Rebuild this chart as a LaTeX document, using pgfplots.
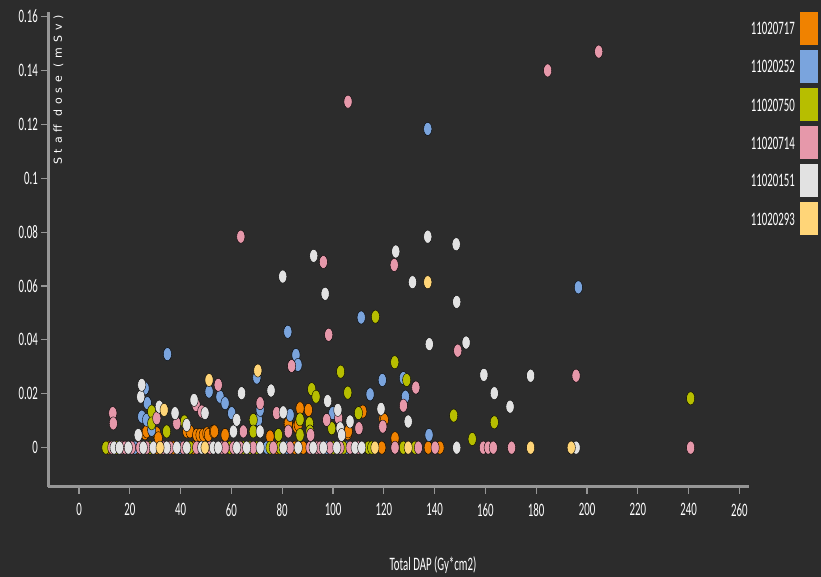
\documentclass[border=0pt]{standalone}
\usepackage{pgfplots}
\pgfplotsset{compat=1.18}
\usepackage{fontspec}
\setmainfont[FakeStretch=0.57]{Carlito}
\newfontfamily\ylabfont[LetterSpace=44]{DejaVu Sans}
\definecolor{bg}{RGB}{44,44,44}
\definecolor{axgray}{RGB}{150,150,150}
\definecolor{cOrange}{RGB}{240,130,0}
\definecolor{cBlue}{RGB}{122,164,221}
\definecolor{cOlive}{RGB}{183,190,0}
\definecolor{cPink}{RGB}{230,152,170}
\definecolor{cWhite}{RGB}{226,226,226}
\definecolor{cYellow}{RGB}{255,213,120}
\pgfplotsset{pt/.style={only marks, mark=*, mark size=4.1pt, mark options={draw=none, fill=#1, yscale=1.6}}}
\begin{document}
\begin{tikzpicture}
\fill[bg] (-48.3pt,-90.3pt) rectangle (772.7pt,486.7pt);
\begin{axis}[
  at={(0pt,0pt)}, anchor=south west,
  scale only axis, width=701pt, height=474.7pt,
  xmin=-12.1, xmax=263.9, ymin=-0.0145, ymax=0.1617,
  axis lines=left,
  axis line style={draw=axgray, line width=2.5pt, -},
  tick style={draw=axgray, line width=1.2pt},
  tick align=outside,
  major tick length=7pt,
  xtick={0,20,40,60,80,100,120,140,160,180,200,220,240,260},
  ytick={0,0.02,0.04,0.06,0.08,0.1,0.12,0.14,0.16},
  scaled y ticks=false,
  yticklabel style={/pgf/number format/fixed, /pgf/number format/precision=2},
  xticklabel style={yshift=-6pt},
  ticklabel style={font=\fontsize{19}{19}\selectfont, text=white},
  /pgf/number format/assume math mode=true,
  xlabel={Total DAP (Gy*cm2)},
  xlabel style={at={(axis description cs:0.5488,0)}, anchor=center, yshift=-78.3pt, font=\fontsize{19}{19}\selectfont, text=white, inner sep=0pt},
  ylabel={Staff dose (mSv)},
  ylabel style={at={(axis description cs:0.0146,0.9937)}, anchor=east, rotate=0, font=\ylabfont\fontsize{11}{11}\selectfont, text=white, inner sep=0pt},
]
\addplot[pt=cOrange] table {
x y
11.5 0
22.7 0
30.6 0
37.1 0
45.0 0
77.8 0
85.0 0
88.3 0
119.2 0
137.5 0
142.1 0
26.0 0.0053
26.6 0.0060
30.6 0.0053
31.2 0.0035
42.4 0.0060
43.7 0.0060
46.3 0.0047
47.6 0.0047
48.9 0.0047
50.3 0.0053
50.9 0.0047
52.9 0.0060
53.3 0.0060
57.5 0.0047
75.2 0.0041
82.2 0.0090
82.4 0.0090
85.7 0.0078
86.3 0.0085
87.0 0.0146
90.3 0.0140
105.8 0.0053
106.0 0.0060
111.7 0.0134
119.7 0.0107
120.2 0.0103
124.4 0.0029
124.4 0.0035
};
\addplot[pt=cBlue] table {
x y
22.0 0
39.8 0
73.9 0
81.8 0
97.5 0
105.4 0
28.6 0.0066
24.7 0.0115
26.0 0.0220
26.6 0.0103
26.9 0.0165
34.8 0.0347
51.2 0.0208
55.5 0.0189
57.5 0.0165
60.1 0.0128
70.0 0.0260
70.6 0.0103
71.3 0.0140
82.2 0.0430
83.1 0.0121
85.4 0.0344
86.2 0.0307
99.9 0.0128
111.1 0.0483
114.6 0.0198
119.4 0.0251
127.7 0.0258
128.5 0.0189
137.3 0.1183
137.8 0.0047
196.6 0.0595
};
\addplot[pt=cOlive] table {
x y
10.6 0
14.8 0
28.0 0
43.7 0
59.4 0
64.7 0
67.3 0
70.0 0
75.2 0
79.1 0
100.1 0
104.1 0
113.9 0
115.2 0
127.7 0
132.3 0
28.6 0.0134
28.6 0.0090
34.5 0.0060
41.5 0.0097
68.6 0.0103
68.6 0.0060
78.5 0.0047
87.0 0.0105
87.0 0.0047
90.7 0.0090
90.9 0.0060
91.6 0.0217
93.3 0.0189
99.5 0.0072
103.0 0.0282
105.8 0.0204
110.0 0.0128
116.7 0.0486
124.3 0.0317
129.0 0.0251
147.5 0.0119
154.8 0.0032
163.5 0.0094
240.8 0.0183
};
\addplot[pt=cPink] table {
x y
12.9 0
16.8 0
18.1 0
20.7 0
24.0 0
26.6 0
33.2 0
35.8 0
41.1 0
46.3 0
51.6 0
56.2 0
57.5 0
60.8 0
63.4 0
68.6 0
76.5 0
83.1 0
90.9 0
93.6 0
94.9 0
98.8 0
102.8 0
106.7 0
110.0 0
124.4 0
133.6 0
140.2 0
159.2 0
161.1 0
163.1 0
170.3 0
240.8 0
13.3 0.0128
13.5 0.0090
30.6 0.0109
38.5 0.0090
46.1 0.0158
48.3 0.0134
54.8 0.0233
64.7 0.0060
71.3 0.0165
77.8 0.0128
82.4 0.0060
83.7 0.0303
91.2 0.0047
96.2 0.0689
97.5 0.0103
98.3 0.0419
102.2 0.0109
105.9 0.1284
110.2 0.0072
119.6 0.0078
124.1 0.0678
127.7 0.0156
132.6 0.0223
149.1 0.0360
184.5 0.1400
195.7 0.0267
204.6 0.1470
63.7 0.0783
};
\addplot[pt=cWhite] table {
x y
13.8 0
15.9 0
19.4 0
25.3 0
29.3 0
34.5 0
38.5 0
42.4 0
48.3 0
52.9 0
54.8 0
62.1 0
66.0 0
71.3 0
80.4 0
86.3 0
92.2 0
96.2 0
101.5 0
108.7 0
111.3 0
148.7 0
195.7 0
23.3 0.0047
24.3 0.0189
24.7 0.0233
31.6 0.0152
37.8 0.0128
42.4 0.0084
45.3 0.0177
49.6 0.0128
60.8 0.0060
62.1 0.0103
64.0 0.0202
71.3 0.0060
75.6 0.0212
80.2 0.0635
80.4 0.0131
92.4 0.0712
96.9 0.0571
97.9 0.0173
101.9 0.0140
102.8 0.0072
103.4 0.0047
106.7 0.0097
118.9 0.0144
124.7 0.0728
129.6 0.0097
131.3 0.0614
137.3 0.0783
137.9 0.0384
148.5 0.0755
148.7 0.0541
152.4 0.0390
159.4 0.0270
163.5 0.0202
169.7 0.0152
177.8 0.0267
};
\addplot[pt=cYellow] table {
x y
31.9 0
49.6 0
116.5 0
129.6 0
177.8 0
193.8 0
33.5 0.0140
51.2 0.0251
70.4 0.0286
137.3 0.0614
};
\end{axis}
\foreach \c/\t/\y in {cOrange/11020717/28.7, cBlue/11020252/66.5, cOlive/11020750/105, cPink/11020714/143, cWhite/11020151/180.5, cYellow/11020293/219}{
  \fill[\c] (751.7pt,{(486.7-\y-16.5)*1pt}) rectangle (769.7pt,{(486.7-\y+16.5)*1pt});
  \node[anchor=east, inner sep=0pt, text=white, font=\fontsize{19}{19}\selectfont] at (746.7pt,{(486.7-\y)*1pt}) {\t};
}
\pgfresetboundingbox
\path (-48.3pt,-90.3pt) rectangle (772.7pt,486.7pt);
\end{tikzpicture}
\end{document}
